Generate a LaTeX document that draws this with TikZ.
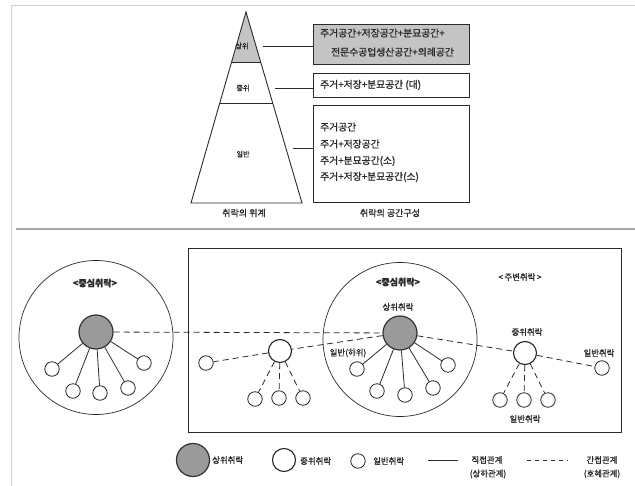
\documentclass[tikz,border=0pt]{standalone}
\usepackage{fontspec}
\setmainfont{Noto Sans CJK KR}[FakeBold=1.2]
\usetikzlibrary{calc}
\definecolor{ink}{HTML}{2A2A2A}
\definecolor{fillgray}{HTML}{9A9A9A}
\definecolor{boxgray}{HTML}{C4C4C4}
\definecolor{framegray}{HTML}{D0D0D0}
\definecolor{sepgray}{HTML}{A8A8A8}
\tikzset{
  txt/.style={inner sep=0pt, text=ink, font=\fontsize{9.8}{11}\selectfont},
  small/.style={inner sep=0pt, text=ink, font=\fontsize{7.2}{8}\selectfont},
  lbl/.style={inner sep=0pt, text=ink, font=\fontsize{8.4}{9}\selectfont},
  captext/.style={inner sep=0pt, text=ink, font=\fontsize{9}{10}\selectfont},
  ttl/.style={inner sep=0pt, text=ink, font=\bfseries\fontsize{9}{10}\selectfont},
  bbox/.style={draw=ink, line width=0.9pt, rectangle, inner sep=0pt, minimum width=156pt},
  ring/.style={draw=ink, line width=0.7pt, circle, inner sep=0pt, minimum size=154pt},
  topnode/.style={draw=black!80, line width=1.2pt, circle, fill=fillgray, inner sep=0pt, minimum size=34pt},
  midnode/.style={draw=black!85, line width=1.1pt, circle, fill=white, inner sep=0pt, minimum size=23pt},
  lownode/.style={draw=ink, line width=0.8pt, circle, fill=white, inner sep=0pt, minimum width=13pt, minimum height=14.5pt},
  solidrel/.style={draw=ink, line width=0.8pt},
  dashrel/.style={draw=ink, line width=0.8pt, dash pattern=on 6pt off 4pt},
}
\begin{document}
\begin{tikzpicture}[x=1pt,y=-1pt]
\useasboundingbox (0,0) rectangle (635,486);
% frame
\draw[framegray, line width=0.8pt] (11,486) -- (11,5) -- (635,5);
\draw[sepgray, line width=1.3pt] (16,229) -- (635,229);

% pyramid
\coordinate (apex) at (246,12);
\coordinate (bl) at (191,203);
\coordinate (br) at (302,203);
\coordinate (l1) at ($(apex)!0.2618!(bl)$);
\coordinate (r1) at ($(apex)!0.2618!(br)$);
\coordinate (l2) at ($(apex)!0.4764!(bl)$);
\coordinate (r2) at ($(apex)!0.4764!(br)$);
\fill[boxgray] (apex) -- (l1) -- (r1) -- cycle;
\draw[ink, line width=0.9pt, line join=miter] (apex) -- (bl) -- (br) -- cycle;
\draw[ink, line width=0.9pt] (l1) -- (r1);
\draw[ink, line width=0.9pt] (l2) -- (r2);
\node[small] (p1) at (242,46) {상위};
\node[small] (p2) at (243,88) {중위};
\node[small] (p3) at (243,154) {일반};

% boxes
\node[bbox, fill=boxgray, minimum height=40pt] (b1) at (391,44) {};
\node[bbox, minimum height=24pt] (b2) at (391,85) {};
\node[bbox, minimum height=97pt] (b3) at (391,153.5) {};
\node[txt, anchor=west] (t11) at (320,33) {주거공간+저장공간+분묘공간+};
\node[txt, anchor=west] (t12) at (331,52) {전문수공업생산공간+의례공간};
\node[txt, anchor=west] (t2) at (320,85) {주거+저장+분묘공간 (대)};
\node[txt, anchor=west] (t31) at (320,127) {주거공간};
\node[txt, anchor=west] (t32) at (320,144) {주거+저장공간};
\node[txt, anchor=west] (t33) at (320,161) {주거+분묘공간(소)};
\node[txt, anchor=west] (t34) at (320,177) {주거+저장+분묘공간(소)};

% connectors pyramid -> boxes
\coordinate (c1) at (263,46);
\coordinate (c2) at (275,88);
\coordinate (c3) at (293,148);
\draw[ink, line width=0.6pt] (c1) -- (c1 -| b1.west);
\draw[ink, line width=0.6pt] (c2) -- (c2 -| b2.west);
\draw[ink, line width=0.6pt] (c3) -- (c3 -| b3.west);

\node[captext] (cap1) at (244,213) {취락의 위계};
\node[captext] (cap2) at (390,213) {취락의 공간구성};

% ===== bottom =====
\node[ring] (leftring) at (96,337.5) {};
\node[ttl] (lt) at (95,283) {<중심취락>};

\draw[ink, line width=0.9pt] (188,248) rectangle (621,432);
\node[ring] (rightring) at (400,339.5) {};
\node[ttl] (rt) at (398,282) {<중심취락>};
\node[lbl] (pt) at (520,277) {<\,주변취락\,>};
\node[lbl] (sangwi) at (398,307) {상위취락};
\node[lbl] (ilban) at (348,353) {일반(하위)};
\node[lbl] (jungwi) at (527,332) {중위취락};
\node[lbl] (ilr) at (599,353) {일반취락};
\node[lbl] (ilb) at (525,419) {일반취락};

% left hub
\node[topnode] (g1) at (96,332) {};
\node[lownode] (a1) at (52,369) {};
\node[lownode] (a2) at (73,391) {};
\node[lownode] (a3) at (100,393) {};
\node[lownode] (a4) at (128,388) {};
\node[lownode] (a5) at (144,363) {};
\foreach \n in {a1,a2,a3,a4,a5} \draw[solidrel] (g1) -- (\n);

% right hub
\node[topnode] (g2) at (400,333) {};
\node[lownode] (b1n) at (357,369) {};
\node[lownode] (b2n) at (377,391) {};
\node[lownode] (b3n) at (405,395) {};
\node[lownode] (b4n) at (433,388) {};
\node[lownode] (b5n) at (448,365) {};
\foreach \n in {b1n,b2n,b3n,b4n,b5n} \draw[solidrel] (g2) -- (\n);

% middle nodes
\node[midnode] (m1) at (280,351) {};
\node[midnode] (m2) at (525,353) {};
\node[lownode] (s1) at (206,363) {};
\node[lownode] (s2) at (602,368) {};
\node[lownode] (m1a) at (255,399) {};
\node[lownode] (m1b) at (279,398) {};
\node[lownode] (m1c) at (303,398) {};
\node[lownode] (m2a) at (500,400) {};
\node[lownode] (m2b) at (524,400) {};
\node[lownode] (m2c) at (548,400) {};

\draw[dashrel] (g1) -- (g2);
\draw[dashrel] (g2) -- (m1);
\draw[dashrel] (g2) -- (m2);
\draw[dashrel] (m1) -- (s1);
\draw[dashrel] (m2) -- (s2);
\foreach \n in {m1a,m1b,m1c} \draw[dashrel] (m1) -- (\n);
\foreach \n in {m2a,m2b,m2c} \draw[dashrel] (m2) -- (\n);

% legend
\node[topnode, minimum size=33pt] (lg1) at (193,460) {};
\node[lbl, anchor=west] (lt1) at (212,460) {상위취락};
\node[midnode] (lg2) at (284,460) {};
\node[lbl, anchor=west] (lt2) at (300,461) {중위취락};
\node[lownode] (lg3) at (358,461) {};
\node[lbl, anchor=west] (lt3) at (373,461) {일반취락};
\coordinate (ls1) at (428,460);
\coordinate (ls2) at (458,460);
\draw[solidrel] (ls1) -- (ls2);
\node[lbl] (lt4) at (487,460) {직접관계};
\node[lbl] (lt4b) at (488,474) {(상하관계)};
\coordinate (ld1) at (527,460);
\coordinate (ld2) at (568,460);
\draw[ink, line width=0.8pt, dash pattern=on 4pt off 4pt] (ld1) -- (ld2);
\node[lbl] (lt5) at (602,460) {간접관계};
\node[lbl] (lt5b) at (602,474) {(호혜관계)};
\end{tikzpicture}
\end{document}
